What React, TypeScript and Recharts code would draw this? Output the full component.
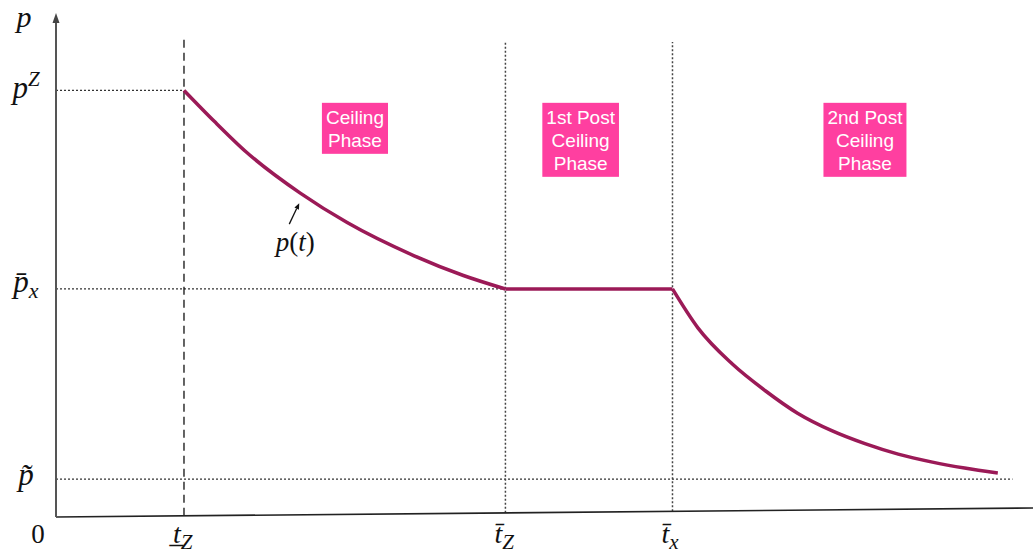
import {
  ComposedChart,
  Line,
  XAxis,
  YAxis,
  ReferenceLine,
  ReferenceDot,
} from "recharts";

// price path p(t), one array pair per phase
const ceilingT = [13.1, 16.2, 19.5, 25.0, 29.8, 36.6, 41.7, 46.0];
const ceilingP = [85.5, 79.3, 73.1, 64.9, 59.0, 52.4, 48.4, 45.7];
const flatT = [46.0, 63.1];
const flatP = [45.7, 45.7];
const postT = [63.1, 65.7, 69.2, 72.6, 75.9, 79.4, 82.8, 86.2, 89.7, 93.0, 96.4];
const postP = [45.7, 37.9, 30.7, 25.3, 20.8, 17.3, 14.7, 12.6, 11.0, 9.8, 8.8];

// key levels on the price axis
const pZ = 85.5;
const pBarX = 45.7;
const pTilde = 7.6;
const pTop = 100;

// key dates on the time axis
const tZ = 13.1;
const tBarZ = 46.0;
const tBarX = 63.1;
const tEnd = 100;

// the time axis is drawn slightly tilted
const axisRise = 1.8;
const axisAt = (t: number) => (axisRise * t) / tEnd;

const guideTop = [96.0, 95.2, 95.2];

const phaseLabels = [
  ["Ceiling", "Phase"],
  ["1st Post", "Ceiling", "Phase"],
  ["2nd Post", "Ceiling", "Phase"],
];
const phaseT = [30.6, 53.7, 82.8];
const phaseTop = 83.0;

const curveLabelT = 25.0;
const curveLabelP = 64.9;

const toRows = (ts: number[], ps: number[]) =>
  ts.map((t, i) => ({ t, p: ps[i] }));

const SERIF = "'Liberation Serif', 'Times New Roman', serif";
const SANS = "'Liberation Sans', Arial, Helvetica, sans-serif";
const CURVE = "#9b1a57";
const PINK = "#ff3fa0";
const INK = "#222";

let measureCtx: CanvasRenderingContext2D | null = null;
function textWidth(s: string, font: string) {
  if (!measureCtx) measureCtx = document.createElement("canvas").getContext("2d");
  if (!measureCtx) return s.length * 9;
  measureCtx.font = font;
  return measureCtx.measureText(s).width;
}

function PriceTick(props: any) {
  const { y, payload } = props;
  const v = payload.value;
  const common = {
    x: 26,
    textAnchor: "middle" as const,
    fontFamily: SERIF,
    fontStyle: "italic",
    fill: "#111",
  };
  if (v === pTop)
    return (
      <text {...common} x={24} y={y + 9} fontSize={30}>
        p
      </text>
    );
  if (v === pZ)
    return (
      <text {...common} y={y + 8} fontSize={31}>
        <tspan>p</tspan>
        <tspan fontSize={21} dy={-12}>
          Z
        </tspan>
      </text>
    );
  if (v === pBarX)
    return (
      <text {...common} y={y + 3} fontSize={31}>
        <tspan>{"p\u0304"}</tspan>
        <tspan fontSize={22} dy={6}>
          x
        </tspan>
      </text>
    );
  return (
    <text {...common} y={y + 6} fontSize={31}>
      {"p\u0303"}
    </text>
  );
}

function TimeTick(props: any) {
  const { x, payload } = props;
  const v = payload.value;
  const base = 543;
  const common = {
    y: base,
    fontFamily: SERIF,
    fill: "#111",
  };
  if (v === 0)
    return (
      <text {...common} x={x - 18} textAnchor="middle" fontSize={27}>
        0
      </text>
    );
  const main = v === tZ ? "t\u0332" : "t\u0304";
  const sub = v === tBarX ? "x" : "Z";
  return (
    <text {...common} x={x - 11} fontStyle="italic" fontSize={28}>
      <tspan>{main}</tspan>
      <tspan fontSize={21} dy={6}>
        {sub}
      </tspan>
    </text>
  );
}

function AxisArrow(props: any) {
  const { cx, cy } = props;
  return (
    <polygon
      points={`${cx},${cy - 5} ${cx - 3.5},${cy + 5} ${cx + 3.5},${cy + 5}`}
      fill="#444"
    />
  );
}

function PhaseBox(lines: string[]) {
  return (props: any) => {
    const { cx, cy } = props;
    const fontSize = 19;
    const lineH = 23;
    const font = `${fontSize}px ${SANS}`;
    const w = Math.max(...lines.map((l) => textWidth(l, font))) + 8;
    const h = lines.length * lineH + 5;
    return (
      <g>
        <rect x={cx - w / 2} y={cy} width={w} height={h} fill={PINK} />
        {lines.map((l, i) => (
          <text
            key={l}
            x={cx}
            y={cy + 21 + i * lineH}
            textAnchor="middle"
            fontFamily={SANS}
            fontSize={fontSize}
            fill="#fff"
          >
            {l}
          </text>
        ))}
      </g>
    );
  };
}

function CurveLabel(props: any) {
  const { cx, cy } = props;
  const tip = { x: cx - 1, y: cy + 10 };
  const tail = { x: cx - 11, y: cy + 31 };
  const dx = tip.x - tail.x;
  const dy = tip.y - tail.y;
  const len = Math.hypot(dx, dy);
  const ux = dx / len;
  const uy = dy / len;
  const bx = tip.x - ux * 6;
  const by = tip.y - uy * 6;
  return (
    <g>
      <line x1={tail.x} y1={tail.y} x2={bx} y2={by} stroke="#111" strokeWidth={1.3} />
      <polygon
        points={`${tip.x},${tip.y} ${bx - uy * 2.5},${by + ux * 2.5} ${bx + uy * 2.5},${by - ux * 2.5}`}
        fill="#111"
      />
      <text
        x={cx - 5}
        y={cy + 58}
        textAnchor="middle"
        fontFamily={SERIF}
        fontSize={27}
        fill="#111"
      >
        <tspan fontStyle="italic">p</tspan>
        <tspan>(</tspan>
        <tspan fontStyle="italic">t</tspan>
        <tspan>)</tspan>
      </text>
    </g>
  );
}

export default function App() {
  const dotted = { stroke: "#333", strokeWidth: 1.3, strokeDasharray: "2 2" };
  const guideTs = [tZ, tBarZ, tBarX];
  return (
    <div style={{ position: "absolute", left: 0, top: 0, background: "#fff" }}>
      <ComposedChart
        width={1033}
        height={560}
        margin={{ top: 18, right: 0, bottom: 0, left: 0 }}
      >
        <XAxis
          dataKey="t"
          type="number"
          domain={[0, tEnd]}
          ticks={[0, tZ, tBarZ, tBarX]}
          tick={<TimeTick />}
          axisLine={false}
          tickLine={false}
          height={43}
          interval={0}
        />
        <YAxis
          type="number"
          domain={[0, pTop]}
          ticks={[pTilde, pBarX, pZ, pTop]}
          tick={<PriceTick />}
          axisLine={{ stroke: "#555", strokeWidth: 2 }}
          tickLine={false}
          width={56}
          interval={0}
        />

        {/* horizontal guides from the price axis */}
        <ReferenceLine segment={[{ x: 0, y: pZ }, { x: tZ, y: pZ }]} {...dotted} />
        <ReferenceLine segment={[{ x: 0, y: pBarX }, { x: tBarZ, y: pBarX }]} {...dotted} />
        <ReferenceLine segment={[{ x: 0, y: pTilde }, { x: 97.9, y: pTilde }]} {...dotted} />

        {/* vertical guides at the phase dates */}
        {guideTs.map((t, i) => (
          <ReferenceLine
            key={t}
            segment={[{ x: t, y: axisAt(t) }, { x: t, y: guideTop[i] }]}
            stroke={i === 0 ? "#111" : "#444"}
            strokeWidth={i === 0 ? 1.3 : 1.5}
            strokeDasharray={i === 0 ? "8 5" : "2 2"}
          />
        ))}

        {/* tilted time axis */}
        <ReferenceLine
          segment={[{ x: 0, y: 0 }, { x: tEnd, y: axisRise }]}
          stroke={INK}
          strokeWidth={1.6}
        />
        <ReferenceDot x={0} y={pTop} r={4} shape={<AxisArrow />} ifOverflow="visible" />

        <Line
          data={toRows(ceilingT, ceilingP)}
          dataKey="p"
          type="monotone"
          stroke={CURVE}
          strokeWidth={3.5}
          dot={false}
          activeDot={false}
          isAnimationActive={false}
        />
        <Line
          data={toRows(flatT, flatP)}
          dataKey="p"
          type="linear"
          stroke={CURVE}
          strokeWidth={3.5}
          dot={false}
          activeDot={false}
          isAnimationActive={false}
        />
        <Line
          data={toRows(postT, postP)}
          dataKey="p"
          type="monotone"
          stroke={CURVE}
          strokeWidth={3.5}
          dot={false}
          activeDot={false}
          isAnimationActive={false}
        />

        {phaseLabels.map((lines, i) => (
          <ReferenceDot
            key={lines.join(" ")}
            x={phaseT[i]}
            y={phaseTop}
            r={1}
            shape={PhaseBox(lines)}
            ifOverflow="visible"
          />
        ))}
        <ReferenceDot
          x={curveLabelT}
          y={curveLabelP}
          r={1}
          shape={<CurveLabel />}
          ifOverflow="visible"
        />
      </ComposedChart>
    </div>
  );
}
